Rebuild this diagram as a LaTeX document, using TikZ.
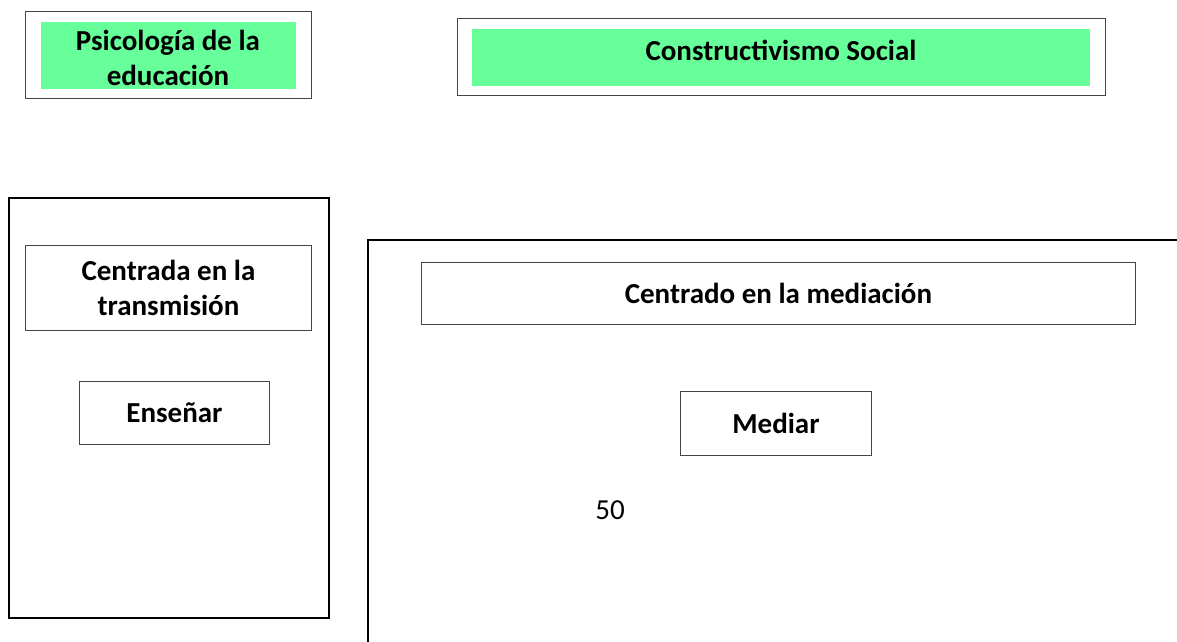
\documentclass[tikz,border=0pt]{standalone}
\usepackage{fontspec}
\setmainfont{Carlito}
\definecolor{verde}{RGB}{102,255,153}
\definecolor{borde}{RGB}{70,70,70}

\begin{document}
\begin{tikzpicture}[x=1pt,y=-1pt,
    caja/.style={draw=borde,line width=0.9pt,inner sep=0pt,anchor=north west},
    marco/.style={draw=black,line width=1.8pt,inner sep=0pt,anchor=north west},
    relleno/.style={fill=verde,inner sep=0pt,anchor=north west},
    titulo/.style={font=\fontsize{29}{35}\selectfont\bfseries,align=center}]
  \useasboundingbox (0,0) rectangle (1177,641);
  % cabecera
  \draw
    (25,11) node[caja,minimum width=286,minimum height=87] (psico) {}
    (41,22) node[relleno,minimum width=255,minimum height=67] (psicofondo) {}
    (168,58) node[titulo] (psicotxt) {Psicología de la\\educación}
    (457,18) node[caja,minimum width=648,minimum height=77] (social) {}
    (472,29) node[relleno,minimum width=618,minimum height=57] (socialfondo) {}
    (781,50) node[titulo] (socialtxt) {Constructivismo Social};
  % bloque izquierdo
  \draw
    (8,197) node[marco,minimum width=320,minimum height=420] (izq) {}
    (25,245) node[caja,minimum width=286,minimum height=85] (centrada) {}
    (centrada.center) node[titulo] (centradatxt) {Centrada en la\\transmisión}
    (79,381) node[caja,minimum width=190,minimum height=63] (ensenar) {}
    (ensenar.center) node[titulo] (ensenartxt) {Enseñar};
  % bloque derecho
  \draw[line width=1.8pt] (368,645) -- (368,240) -- (1181,240);
  \draw
    (421,262) node[caja,minimum width=714,minimum height=62] (centrado) {}
    (centrado.center) node[titulo] (centradotxt) {Centrado en la mediación}
    (680,391) node[caja,minimum width=191,minimum height=64] (mediar) {}
    (mediar.center) node[titulo] (mediartxt) {Mediar}
    (610,510) node[font=\fontsize{29}{35}\selectfont] (cincuenta) {50};
\end{tikzpicture}
\end{document}
